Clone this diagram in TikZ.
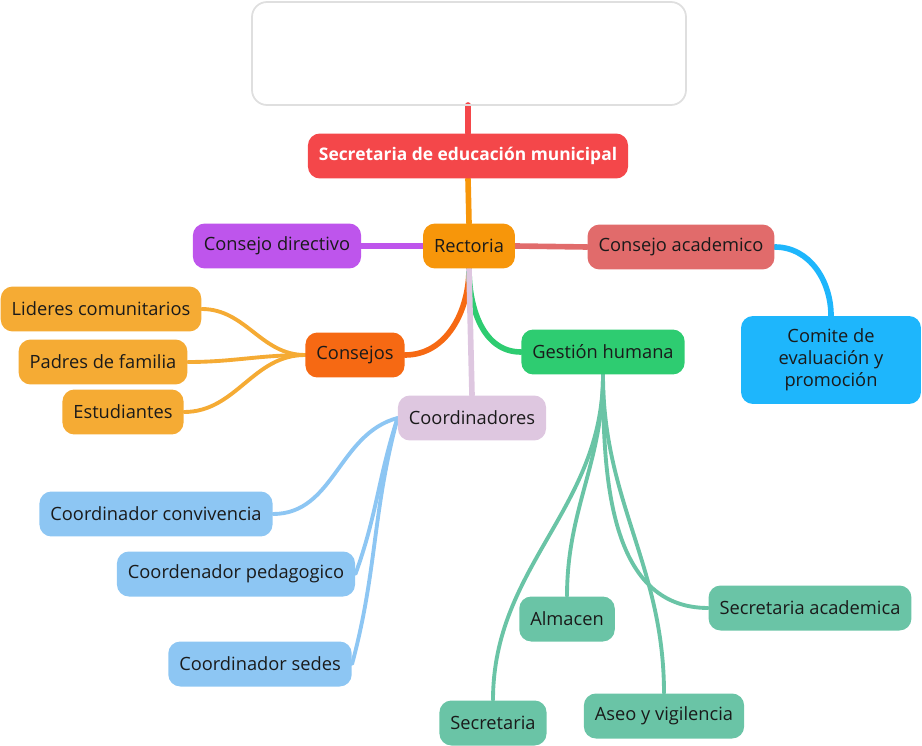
\documentclass[tikz,border=0pt]{standalone}
\usepackage{fontspec}
\setmainfont{Open Sans}
\usepackage{tikz}
\usepackage{xcolor}
\usetikzlibrary{backgrounds}

\definecolor{secred}{HTML}{F4474A}
\definecolor{rectorange}{HTML}{F7960A}
\definecolor{dirpurple}{HTML}{BE55EC}
\definecolor{acadred}{HTML}{E16B6B}
\definecolor{comblue}{HTML}{1EB6FC}
\definecolor{consorange}{HTML}{F66913}
\definecolor{gestgreen}{HTML}{2ECC71}
\definecolor{coordlilac}{HTML}{DEC7E0}
\definecolor{suborange}{HTML}{F5AB34}
\definecolor{subblue}{HTML}{8DC6F3}
\definecolor{subgreen}{HTML}{6AC4A6}
\definecolor{txt}{HTML}{1A1A1A}

\tikzset{
  topic/.style={rounded corners=0.24cm, minimum height=0.9cm, inner xsep=0.22cm,
    font=\fontsize{10.4}{12.6}\selectfont, text=txt},
  branch/.style={line width=2.2pt, line cap=round},
  trunk/.style={line width=3.2pt, line cap=round}
}

\begin{document}
\begin{tikzpicture}[x=0.02cm,y=-0.02cm]
\useasboundingbox (0,0) rectangle (922,746);

% central box
\draw[gray!25, line width=1pt, rounded corners=0.3cm] (252,2) rectangle (686,105);
\coordinate (top) at (468,105);

\node[topic, fill=secred, text=white, font=\fontsize{9.9}{12}\selectfont\bfseries] (sec) at (468,156) {Secretaria de educación municipal};
\node[topic, fill=rectorange] (rect) at (469,246) {Rectoria};
\node[topic, fill=dirpurple] (dir) at (277,246) {Consejo directivo};
\node[topic, fill=acadred] (acad) at (681,247) {Consejo academico};
\node[topic, fill=comblue, minimum width=3.6cm, minimum height=1.76cm, align=center] (comite) at (831,360) {Comite de\\evaluación y\\promoción};
\node[topic, fill=consorange] (cons) at (355,355) {Consejos};
\node[topic, fill=gestgreen] (gest) at (603,352) {Gestión humana};
\node[topic, fill=coordlilac] (coord) at (472,418) {Coordinadores};

% Consejos
\node[topic, fill=suborange] (lid) at (101,309) {Lideres comunitarios};
\node[topic, fill=suborange] (pad) at (103,362) {Padres de familia};
\node[topic, fill=suborange] (est) at (123,412) {Estudiantes};

% Coordinadores
\node[topic, fill=subblue] (conv) at (156,514) {Coordinador convivencia};
\node[topic, fill=subblue] (ped) at (236,574) {Coordenador pedagogico};
\node[topic, fill=subblue] (sed) at (260,664) {Coordinador sedes};

% Gestion humana
\node[topic, fill=subgreen] (alm) at (567,619) {Almacen};
\node[topic, fill=subgreen] (seca) at (810,608) {Secretaria academica};
\node[topic, fill=subgreen] (secr) at (493,723) {Secretaria};
\node[topic, fill=subgreen] (aseo) at (664,716) {Aseo y vigilencia};

% connectors
\begin{pgfonlayer}{background}
\draw[trunk, secred] (top) -- (sec.north);
\draw[trunk, rectorange] (sec.south) -- (rect.north);
\draw[trunk, dirpurple] (rect.west) -- (dir.east);
\draw[trunk, acadred] (rect.east) -- (acad.west);
\draw[trunk, consorange] (rect.south) to[out=-90,in=0] (cons.east);
\draw[trunk, gestgreen] (rect.south) to[out=-90,in=180] (gest.west);
\draw[trunk, coordlilac] (rect.south) -- (coord.north);
\draw[trunk, comblue] (acad.east) to[out=0,in=90] (comite.north);

\draw[branch, suborange] (cons.west) to[out=180,in=0] (lid.east);
\draw[branch, suborange] (cons.west) to[out=180,in=0] (pad.east);
\draw[branch, suborange] (cons.west) to[out=180,in=0] (est.east);

\draw[branch, subblue] (coord.west) to[out=195,in=0] (conv.east);
\draw[branch, subblue] (coord.west) to[out=252,in=70] (ped.east);
\draw[branch, subblue] (coord.west) to[out=255,in=75] (sed.east);

\draw[branch, subgreen] (gest.south) to[out=-90,in=90] (alm.north);
\draw[branch, subgreen] (gest.south) to[out=-90,in=90] (secr.north);
\draw[branch, subgreen] (gest.south) to[out=-90,in=90] (aseo.north);
\draw[branch, subgreen] (gest.south) to[out=-90,in=180] (seca.west);
\end{pgfonlayer}
\end{tikzpicture}
\end{document}
